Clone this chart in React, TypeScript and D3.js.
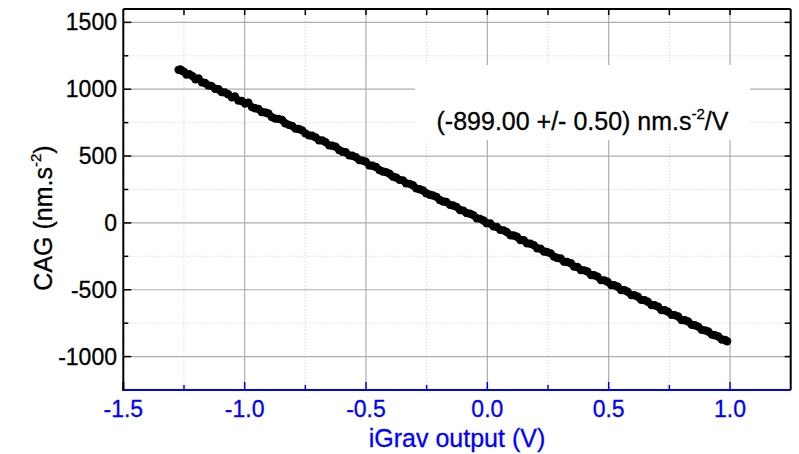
import React from "react";
import * as d3 from "d3";

const xValues = [
  -1.272, -1.265, -1.258, -1.25, -1.24, -1.228, -1.215, -1.203, -1.19, -1.176, -1.163, -1.15, -1.137, -1.122, -1.108,
  -1.095, -1.081, -1.068, -1.053, -1.04, -1.026, -1.012, -0.998, -0.985, -0.97, -0.957, -0.943, -0.93, -0.915, -0.902,
  -0.888, -0.874, -0.86, -0.846, -0.833, -0.818, -0.805, -0.791, -0.777, -0.763, -0.75, -0.735, -0.722, -0.708, -0.694,
  -0.68, -0.667, -0.652, -0.639, -0.625, -0.611, -0.597, -0.584, -0.569, -0.556, -0.542, -0.528, -0.514, -0.501, -0.486,
  -0.473, -0.459, -0.445, -0.431, -0.418, -0.403, -0.39, -0.376, -0.362, -0.348, -0.335, -0.32, -0.307, -0.293, -0.279,
  -0.265, -0.252, -0.237, -0.224, -0.21, -0.196, -0.182, -0.169, -0.154, -0.141, -0.127, -0.113, -0.099, -0.086, -0.071,
  -0.058, -0.044, -0.03, -0.016, -0.003, 0.012, 0.025, 0.039, 0.053, 0.067, 0.08, 0.095, 0.108, 0.122, 0.136,
  0.15, 0.163, 0.178, 0.191, 0.205, 0.219, 0.233, 0.246, 0.261, 0.274, 0.288, 0.302, 0.316, 0.329, 0.344,
  0.357, 0.371, 0.385, 0.399, 0.412, 0.427, 0.44, 0.454, 0.468, 0.482, 0.495, 0.51, 0.523, 0.537, 0.551,
  0.565, 0.578, 0.593, 0.606, 0.62, 0.634, 0.648, 0.661, 0.676, 0.689, 0.703, 0.717, 0.731, 0.744, 0.759,
  0.772, 0.786, 0.8, 0.814, 0.827, 0.842, 0.855, 0.869, 0.883, 0.897, 0.91, 0.925, 0.938, 0.952, 0.966,
  0.98, 0.988,
];

const yValues = [
  1145, 1148, 1138, 1130, 1110, 1112, 1098, 1075, 1080, 1052, 1046, 1028, 1025, 1003, 1000,
  978, 975, 962, 940, 945, 915, 912, 893, 900, 866, 858, 852, 830, 826, 818,
  791, 780, 778, 770, 745, 733, 726, 705, 702, 692, 670, 655, 652, 640, 618,
  616, 604, 580, 577, 570, 545, 532, 528, 505, 502, 492, 470, 466, 458, 430,
  428, 418, 396, 384, 380, 368, 346, 340, 322, 318, 296, 292, 282, 258, 252,
  243, 222, 210, 205, 195, 171, 160, 156, 135, 130, 120, 96, 92, 74, 68,
  58, 35, 30, 18, -2, -5, -26, -30, -52, -56, -68, -92, -94, -104, -128,
  -130, -152, -156, -166, -190, -193, -214, -218, -228, -252, -262, -266, -290, -292, -302,
  -326, -330, -352, -355, -364, -390, -392, -402, -428, -430, -440, -465, -466, -478, -502,
  -504, -515, -540, -541, -552, -576, -578, -590, -614, -616, -626, -652, -654, -664, -688,
  -690, -700, -726, -728, -738, -762, -766, -776, -800, -804, -812, -836, -840, -850, -872,
  -876, -885,
];

const xMajorTicks = [-1.5, -1.0, -0.5, 0.0, 0.5, 1.0];
const xMinorTicks = [-1.25, -0.75, -0.25, 0.25, 0.75];
const yMajorTicks = [-1000, -500, 0, 500, 1000, 1500];
const yMinorTicks = [-750, -250, 250, 750, 1250];
const xTickLabels = ["-1.5", "-1.0", "-0.5", "0.0", "0.5", "1.0"];
const yTickLabels = ["-1000", "-500", "0", "500", "1000", "1500"];

const W = 799;
const H = 454;
const L = 123.3;
const R = 790.7;
const T = 9;
const B = 390;
const BLUE = "#0000ff";
const FONT = "'Liberation Sans', Arial, Helvetica, sans-serif";

export default function App() {
  const x = d3.scaleLinear().domain([-1.5, 1.25]).range([L, R]);
  const y = d3.scaleLinear().domain([-1250, 1600]).range([B, T]);
  const points = xValues.map((v, i) => [v, yValues[i]] as [number, number]);

  return (
    <svg
      width={W}
      height={H}
      style={{ position: "absolute", left: 0, top: 0, display: "block", background: "#fff" }}
      fontFamily={FONT}
    >
      <rect x={0} y={0} width={W} height={H} fill="#fff" />
      {xMinorTicks.map((t) => (
        <line key={"xm" + t} x1={x(t)} x2={x(t)} y1={T} y2={B} stroke="#cfcfcf" strokeWidth={1} strokeDasharray="1,2" />
      ))}
      {yMinorTicks.map((t) => (
        <line key={"ym" + t} x1={L} x2={R} y1={y(t)} y2={y(t)} stroke="#cfcfcf" strokeWidth={1} strokeDasharray="1,2" />
      ))}
      {xMajorTicks.filter((t) => t !== -1.5).map((t) => (
        <line key={"xg" + t} x1={x(t)} x2={x(t)} y1={T} y2={B} stroke="#adadad" strokeWidth={1.2} />
      ))}
      {yMajorTicks.map((t) => (
        <line key={"yg" + t} x1={L} x2={R} y1={y(t)} y2={y(t)} stroke="#adadad" strokeWidth={1.2} />
      ))}

      <rect x={415} y={65} width={335} height={75} fill="#fff" />
      <text x={582.5} y={130} fontSize={25} textAnchor="middle" fill="#000" stroke="#000" strokeWidth={0.3}>
        (-899.00 +/- 0.50) nm.s
        <tspan fontSize={15} dy={-11}>-2</tspan>
        <tspan dy={11}>/V</tspan>
      </text>

      <g fill="#000">
        {points.map((p, i) => (
          <circle key={i} cx={x(p[0])} cy={y(p[1])} r={4.2} />
        ))}
      </g>

      <line x1={L} x2={R} y1={T} y2={T} stroke="#000" strokeWidth={2} />
      {[...xMajorTicks, ...xMinorTicks].filter((t) => t > -1.5).map((t) => (
        <line key={"tt" + t} x1={x(t)} x2={x(t)} y1={T} y2={T + 6} stroke="#000" strokeWidth={1.5} />
      ))}
      <line x1={R} x2={R} y1={T} y2={B} stroke="#000" strokeWidth={2} />
      {[...yMajorTicks, ...yMinorTicks].map((t) => (
        <line key={"rt" + t} x1={R} x2={R - 6} y1={y(t)} y2={y(t)} stroke="#000" strokeWidth={1.5} />
      ))}
      <line x1={L} x2={L} y1={T} y2={B} stroke="#000" strokeWidth={2} />
      {yMajorTicks.map((t) => (
        <line key={"lt" + t} x1={L} x2={L + 8} y1={y(t)} y2={y(t)} stroke="#000" strokeWidth={1.5} />
      ))}
      {yMinorTicks.map((t) => (
        <line key={"lm" + t} x1={L} x2={L + 5} y1={y(t)} y2={y(t)} stroke="#000" strokeWidth={1.5} />
      ))}
      {yMajorTicks.map((t, i) => (
        <text key={"yl" + t} x={117} y={y(t) + 8} fontSize={23} textAnchor="end" fill="#000" stroke="#000" strokeWidth={0.3}>
          {yTickLabels[i]}
        </text>
      ))}
      <line x1={L} x2={R} y1={B} y2={B} stroke={BLUE} strokeWidth={2} />
      {xMajorTicks.map((t) => (
        <line key={"bt" + t} x1={x(t)} x2={x(t)} y1={B} y2={B - 8} stroke={BLUE} strokeWidth={1.5} />
      ))}
      {xMinorTicks.map((t) => (
        <line key={"bm" + t} x1={x(t)} x2={x(t)} y1={B} y2={B - 5} stroke={BLUE} strokeWidth={1.5} />
      ))}
      <line x1={L} x2={L} y1={B - 8} y2={B + 1} stroke="#000" strokeWidth={2} />
      {xMajorTicks.map((t, i) => (
        <text key={"xl" + t} x={x(t)} y={417} fontSize={23} textAnchor="middle" fill={BLUE} stroke={BLUE} strokeWidth={0.3}>
          {xTickLabels[i]}
        </text>
      ))}

      <text x={(L + R) / 2} y={447} fontSize={25} textAnchor="middle" fill={BLUE} stroke={BLUE} strokeWidth={0.3}>
        iGrav output (V)
      </text>
      <text transform="translate(52,218) rotate(-90)" fontSize={25} textAnchor="middle" fill="#000" stroke="#000" strokeWidth={0.3}>
        CAG (nm.s
        <tspan fontSize={15} dy={-11}>-2</tspan>
        <tspan dy={11}>)</tspan>
      </text>
    </svg>
  );
}
